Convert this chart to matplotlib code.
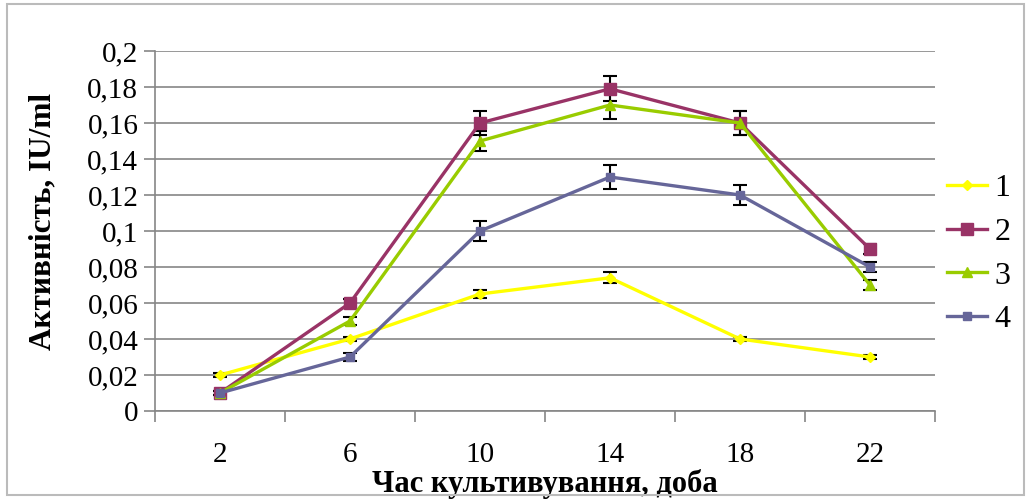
import matplotlib
matplotlib.use("Agg")
import matplotlib.pyplot as plt
from matplotlib.patches import Rectangle
import numpy as np

categories = ["2", "6", "10", "14", "18", "22"]
s1 = [0.020, 0.040, 0.065, 0.074, 0.040, 0.030]
s2 = [0.010, 0.060, 0.160, 0.179, 0.160, 0.090]
s3 = [0.010, 0.050, 0.150, 0.170, 0.160, 0.070]
s4 = [0.010, 0.030, 0.100, 0.130, 0.120, 0.080]
e1 = [0.001, 0.001, 0.002, 0.003, 0.001, 0.001]
e2 = [0.001, 0.002, 0.0065, 0.007, 0.0065, 0.003]
e3 = [0.001, 0.002, 0.0055, 0.0075, 0.0065, 0.003]
e4 = [0.001, 0.002, 0.0053, 0.0065, 0.0055, 0.003]
labels = ["1", "2", "3", "4"]
yticks = [0, 0.02, 0.04, 0.06, 0.08, 0.1, 0.12, 0.14, 0.16, 0.18, 0.2]

colors = ["#FFFF00", "#993366", "#99CC00", "#666699"]
markers = ["D", "s", "^", "s"]
msizes = [5, 8, 7, 6]

plt.rcParams['font.family'] = ['Liberation Serif', 'DejaVu Serif']

fig = plt.figure(figsize=(10.31, 4.99), dpi=100)
fig.patches.append(Rectangle((7/1031, 4/499), 1 - 14/1031, 1 - 8/499,
                             transform=fig.transFigure, fill=False,
                             edgecolor="#BBBBBB", linewidth=1.5))
ax = fig.add_axes([155/1031, 1 - 411/499, 780/1031, 360/499])

x = np.arange(len(categories))
series = [s1, s2, s3, s4]
errs = [e1, e2, e3, e4]
handles = []
for s, e, c, m, ms, lab in zip(series, errs, colors, markers, msizes, labels):
    ax.errorbar(x, s, yerr=e, fmt="none", ecolor="black", elinewidth=1.5,
                capsize=5, capthick=1.5, zorder=3)
    ln, = ax.plot(x, s, color=c, lw=2.4, marker=m, markersize=ms,
                  markerfacecolor=c, markeredgecolor=c, zorder=4, label=lab)
    handles.append(ln)

ax.set_xlim(-0.5, 5.5)
ax.set_ylim(0, 0.2)
ax.set_yticks(yticks)
ax.set_yticklabels([("%g" % v).replace(".", ",") for v in yticks], fontsize=21)
ax.set_xticks(x)
ax.set_xticklabels(categories, fontsize=21)
ax.set_xticks(np.arange(-0.5, 6, 1), minor=True)
ax.tick_params(axis="x", which="major", length=0, pad=22)
ax.tick_params(axis="x", which="minor", length=8, width=1.2, color="#868686", direction="out")
ax.tick_params(axis="y", length=8, width=1.2, color="#868686", direction="out", pad=4)
ax.grid(axis="y", color="#868686", lw=1.2, zorder=0)
for sp in ["top", "right"]:
    ax.spines[sp].set_visible(False)
for sp in ["left", "bottom"]:
    ax.spines[sp].set_color("#868686")
    ax.spines[sp].set_linewidth(1.2)

ax.set_ylabel("Активність, IU/ml", fontsize=22.5, fontweight="bold")
ax.yaxis.set_label_coords((57 - 155) / 780, (411 - 221) / 360)
ax.set_xlabel("Час культивування, доба", fontsize=22, fontweight="bold", labelpad=0)
ax.xaxis.set_label_coords(0.5, -0.16)

fig.legend(handles=handles, loc="center left", bbox_to_anchor=(934/1031, 1 - 254/499),
           frameon=False, fontsize=23, handlelength=1.25, labelspacing=0.45,
           handletextpad=0.25, borderaxespad=0)

fig.savefig("out.png", dpi=100)
